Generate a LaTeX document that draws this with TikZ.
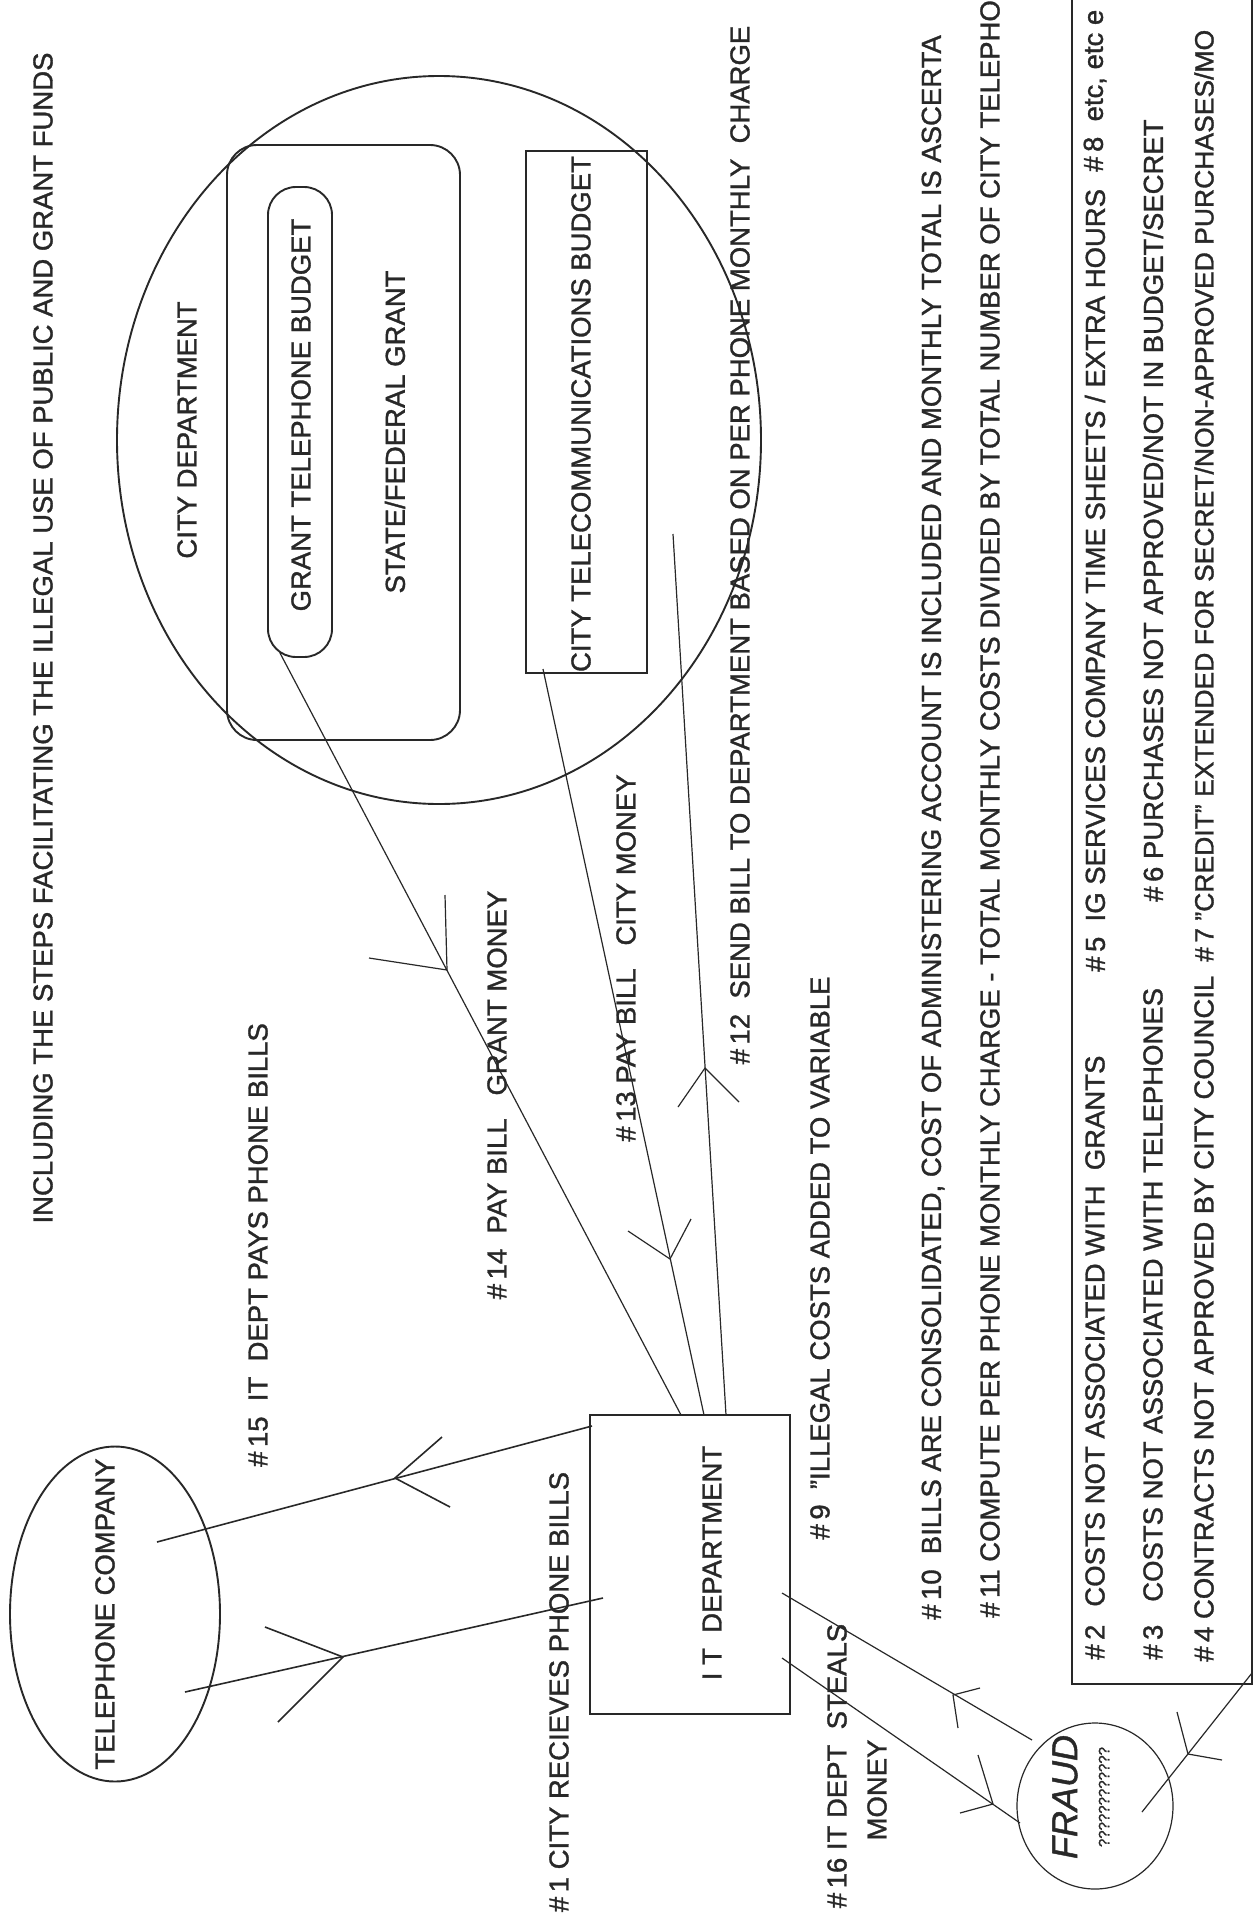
\documentclass[tikz,border=0pt]{standalone}
\usepackage{fontspec}
\setmainfont{Liberation Sans}[FakeBold=1.2]
\usetikzlibrary{shapes.geometric}
\definecolor{ink}{RGB}{40,40,40}
\begin{document}
\begin{tikzpicture}[x=1pt,y=-1pt,
  shp/.style={draw=ink,line width=1.9pt},
  cn/.style={draw=ink,line width=1.6pt},
  fn/.style={draw=ink,line width=1.2pt},
  lbl/.style={rotate=90,text=ink,inner sep=0pt,font=\fontsize{27.5}{30}\selectfont},
  lblw/.style={lbl,anchor=west},
]
\useasboundingbox[fill=white] (0,0) rectangle (1260,1925);

% ---- title
\node[lbl] (title) at (43,638) {INCLUDING THE STEPS FACILITATING THE ILLEGAL USE OF PUBLIC AND GRANT FUNDS};

% ---- city department
\node[shp, ellipse, minimum width=644pt, minimum height=728pt] (cityc) at (439,440) {};
\node[lbl] (citydt) at (187,430) {CITY DEPARTMENT};
\node[shp, rounded corners=30pt, minimum width=233pt, minimum height=595pt] (sfg) at (343.5,442.5) {};
\node[lbl] (sfgt) at (395,432) {STATE/FEDERAL GRANT};
\node[shp, rounded corners=28pt, minimum width=64pt, minimum height=470pt] (gtb) at (300,422) {};
\node[lbl] (gtbt) at (301,415) {GRANT TELEPHONE BUDGET};
\node[shp, minimum width=121pt, minimum height=522pt] (ctb) at (586.5,412) {};
\node[lbl] (ctbt) at (581,414) {CITY TELECOMMUNICATIONS BUDGET};

% ---- IT department
\node[shp, minimum width=200pt, minimum height=299pt] (itd) at (690,1564.5) {};
\node[lbl] (itdt) at (712,1563) {I T\ \ DEPARTMENT};

% ---- telephone company
\node[shp, ellipse, minimum width=210pt, minimum height=335pt] (tel) at (115,1614) {};
\node[lbl] (telt) at (105,1614) {TELEPHONE COMPANY};

% ---- fraud
\node[fn, ellipse, minimum width=156pt, minimum height=166pt] (fraud) at (1095,1806) {};
\node[lbl, font=\fontsize{36}{38}\selectfont\itshape] (fraudt) at (1065,1797) {FRAUD};
\node[lbl, font=\fontsize{15}{16}\selectfont] (fraudq) at (1104,1797) {????????????};

% ---- notes box
\node[shp, minimum width=180pt, minimum height=1704pt] (notes) at (1162,832) {};
\node[lblw] (n2) at (1095,1660) {\#\,2\hspace{18pt}COSTS NOT ASSOCIATED WITH\ \ GRANTS};
\node[lblw] (n5) at (1095,972) {\#\,5\ \ IG SERVICES COMPANY TIME SHEETS / EXTRA HOURS};
\node[lblw] (n8) at (1095,172) {\#\,8\ \ etc, etc e};
\node[lblw] (n3) at (1153,1660) {\#\,3\ \ \ COSTS NOT ASSOCIATED WITH TELEPHONES};
\node[lblw] (n6) at (1153,902) {\#\,6 PURCHASES NOT APPROVED/NOT IN BUDGET/SECRET};
\node[lblw] (n4) at (1204,1662) {\#\,4 CONTRACTS NOT APPROVED BY CITY COUNCIL};
\node[lblw, font=\fontsize{26.5}{29}\selectfont] (n7) at (1204,962) {\#\,7 ''CREDIT'' EXTENDED FOR SECRET/NON-APPROVED PURCHASES/MO};

% ---- step labels
\node[lbl] (s12) at (740,545) {\#\,12\ \ SEND BILL TO DEPARTMENT BASED ON PER PHONE MONTHLY\ \ CHARGE};
\node[lbl] (s13) at (626,958) {\#\,13 PAY BILL\ \ \ CITY MONEY};
\node[lbl] (s14) at (497,1095) {\#\,14\ \ PAY BILL\ \ \ GRANT MONEY};
\node[lbl] (s15) at (258,1245) {\#\,15\ \ IT\ \ DEPT PAYS PHONE BILLS};
\node[lbl] (s1) at (559,1692) {\#\,1 CITY RECIEVES PHONE BILLS};
\node[lbl] (s9) at (820,1258) {\#\,9\ \ "ILLEGAL COSTS ADDED TO VARIABLE};
\node[lblw] (s10) at (933,1620) {\#\,10\ \ BILLS ARE CONSOLIDATED, COST OF ADMINISTERING ACCOUNT IS INCLUDED AND MONTHLY TOTAL IS ASCERTA};
\node[lblw] (s11) at (990,1618) {\#\,11 COMPUTE PER PHONE MONTHLY CHARGE - TOTAL MONTHLY COSTS DIVIDED BY TOTAL NUMBER OF CITY TELEPHO};
\node[lbl] (s16) at (837,1766) {\#\,16 IT DEPT\ \ STEALS};
\node[lbl] (s16b) at (877,1790) {MONEY};

% ---- connectors: telephone company <-> IT department
\coordinate (p15a) at (157,1542); \coordinate (p15b) at (592,1426);
\draw[cn] (p15a) -- (p15b);
\coordinate (v15) at (395,1478); \coordinate (v15l) at (442,1437); \coordinate (v15r) at (450,1507);
\draw[cn] (v15l) -- (v15) -- (v15r);

\coordinate (p1a) at (185,1692); \coordinate (p1b) at (603,1598);
\draw[cn] (p1a) -- (p1b);
\coordinate (v1) at (343,1657); \coordinate (v1l) at (265,1627); \coordinate (v1r) at (278,1722);
\draw[cn] (v1l) -- (v1) -- (v1r);

% ---- #14 grant money
\coordinate (p14a) at (280,653); \coordinate (p14b) at (681,1415);
\draw[fn] (p14a) -- (p14b);
\coordinate (v14) at (447,970); \coordinate (v14l) at (445,895); \coordinate (v14r) at (369,958);
\draw[fn] (v14l) -- (v14) -- (v14r);

% ---- #13 city money
\coordinate (p13a) at (543,669); \coordinate (p13b) at (704,1415);
\draw[fn] (p13a) -- (p13b);
\coordinate (v13) at (670,1259); \coordinate (v13l) at (628,1231); \coordinate (v13r) at (691,1219);
\draw[fn] (v13l) -- (v13) -- (v13r);

% ---- #12 send bill
\coordinate (p12a) at (726,1415); \coordinate (p12b) at (673,534);
\draw[fn] (p12a) -- (p12b);
\coordinate (v12) at (705,1068); \coordinate (v12l) at (678,1107); \coordinate (v12r) at (739,1102);
\draw[fn] (v12l) -- (v12) -- (v12r);

% ---- IT department -> fraud
\coordinate (pAa) at (782,1593); \coordinate (pAb) at (1032,1740);
\draw[fn] (pAa) -- (pAb);
\coordinate (vA) at (953,1695); \coordinate (vAl) at (980,1688); \coordinate (vAr) at (958,1728);
\draw[fn] (vAl) -- (vA) -- (vAr);

\coordinate (pBa) at (782,1658); \coordinate (pBb) at (1020,1823);
\draw[fn] (pBa) -- (pBb);
\coordinate (vB) at (993,1804); \coordinate (vBl) at (978,1755); \coordinate (vBr) at (960,1813);
\draw[fn] (vBl) -- (vB) -- (vBr);

% ---- fraud -> notes
\coordinate (pCa) at (1142,1812); \coordinate (pCb) at (1252,1673);
\draw[fn] (pCa) -- (pCb);
\coordinate (vC) at (1188,1754); \coordinate (vCl) at (1177,1712); \coordinate (vCr) at (1222,1760);
\draw[fn] (vCl) -- (vC) -- (vCr);
\end{tikzpicture}
\end{document}
